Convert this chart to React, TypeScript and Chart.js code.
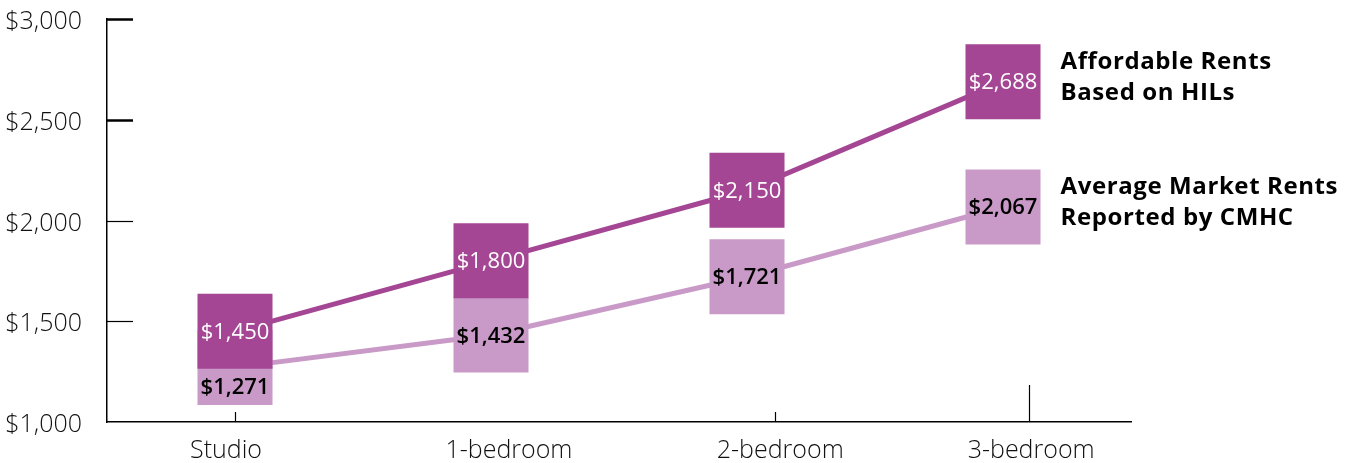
import React, { useEffect, useRef } from "react";
import { Chart, registerables } from "chart.js";

Chart.register(...registerables);

const categories = ["Studio", "1-bedroom", "2-bedroom", "3-bedroom"];
const affordableRents = [1450, 1800, 2150, 2688];
const marketRents = [1271, 1432, 1721, 2067];
const yTicks = [1000, 1500, 2000, 2500, 3000];
const seriesNames = [
  ["Affordable Rents", "Based on HILs"],
  ["Average Market Rents", "Reported by CMHC"],
];

const DARK = "#a44694";
const LIGHT = "#c99ac7";
const FONT = "'Open Sans', 'Noto Sans', sans-serif";
const HALF = 37.5;
const W = 1358;
const H = 463;

const fmt = (v: number) => "$" + v.toLocaleString("en-US");

const decorPlugin = {
  id: "decor",
  afterDatasetsDraw(chart: any) {
    const { ctx, chartArea, scales } = chart;
    const x = scales.x;
    const y = scales.y;
    ctx.save();
    // inner y ticks
    yTicks.forEach((t) => {
      if (t === y.min) return;
      const py = Math.round(y.getPixelForValue(t)) + 0.5;
      ctx.beginPath();
      ctx.strokeStyle = "#000";
      ctx.lineWidth = t >= 2500 ? 2.5 : 1.2;
      ctx.moveTo(chartArea.left, py);
      ctx.lineTo(chartArea.left + 26, py);
      ctx.stroke();
    });
    // inner x ticks
    const tickPos = [0, 2.11, 3.1];
    const tickLen = [10, 10, 37];
    tickPos.forEach((v, i) => {
      const px = Math.round(x.getPixelForValue(v)) + 0.5;
      ctx.beginPath();
      ctx.strokeStyle = "#000";
      ctx.lineWidth = 1.2;
      ctx.moveTo(px, chartArea.bottom);
      ctx.lineTo(px, chartArea.bottom - tickLen[i]);
      ctx.stroke();
    });
    // value labels
    const darkMeta = chart.getDatasetMeta(0);
    const lightMeta = chart.getDatasetMeta(1);
    ctx.textAlign = "center";
    ctx.textBaseline = "middle";
    darkMeta.data.forEach((pt: any, i: number) => {
      ctx.fillStyle = "#fff";
      ctx.font = `500 22px ${FONT}`;
      ctx.fillText(fmt(affordableRents[i]), pt.x, pt.y + 1);
    });
    lightMeta.data.forEach((pt: any, i: number) => {
      const d = darkMeta.data[i];
      let top = pt.y - HALF;
      const bottom = pt.y + HALF;
      const dBottom = d.y + HALF;
      const dTop = d.y - HALF;
      if (dBottom > top && dTop < bottom) top = dBottom;
      const cy = (top + bottom) / 2;
      ctx.fillStyle = "#000";
      ctx.font = `600 22px ${FONT}`;
      ctx.fillText(fmt(marketRents[i]), pt.x, cy + 1);
    });
    // legend text
    ctx.textAlign = "left";
    ctx.textBaseline = "alphabetic";
    ctx.fillStyle = "#000";
    ctx.font = `bold 24px ${FONT}`;
    try {
      (ctx as any).letterSpacing = "0.6px";
    } catch (e) {}
    [darkMeta, lightMeta].forEach((meta: any, k: number) => {
      const last = meta.data[meta.data.length - 1];
      const lx = last.x + HALF + 20;
      ctx.fillText(seriesNames[k][0], lx, last.y - 13);
      ctx.fillText(seriesNames[k][1], lx, last.y + 18.5);
    });
    ctx.restore();
  },
};

export default function App() {
  const ref = useRef<HTMLCanvasElement>(null);
  useEffect(() => {
    if (!ref.current) return;
    const labelPos = [-0.035, 1.07, 2.13, 3.11];
    const chart = new Chart(ref.current, {
      type: "line",
      data: {
        datasets: [
          {
            label: seriesNames[0].join(" "),
            data: affordableRents.map((v, i) => ({ x: i, y: v })),
            borderColor: DARK,
            backgroundColor: DARK,
            borderWidth: 5,
            pointStyle: "rect",
            pointRadius: HALF / Math.SQRT1_2,
            pointHoverRadius: HALF / Math.SQRT1_2,
            pointBorderWidth: 0,
            pointBackgroundColor: DARK,
            tension: 0,
            clip: false,
          },
          {
            label: seriesNames[1].join(" "),
            data: marketRents.map((v, i) => ({ x: i, y: v })),
            borderColor: LIGHT,
            backgroundColor: LIGHT,
            borderWidth: 5,
            pointStyle: "rect",
            pointRadius: HALF / Math.SQRT1_2,
            pointHoverRadius: HALF / Math.SQRT1_2,
            pointBorderWidth: 0,
            pointBackgroundColor: LIGHT,
            tension: 0,
            clip: false,
          },
        ],
      },
      options: {
        animation: false,
        responsive: false,
        devicePixelRatio: 1,
        layout: { autoPadding: false, padding: { left: 0, top: 19, right: 227, bottom: 0 } },
        plugins: { legend: { display: false }, tooltip: { enabled: false } },
        scales: {
          x: {
            type: "linear",
            min: -0.5,
            max: 3.5,
            grid: { display: false },
            border: { display: true, color: "#000", width: 1.5 },
            afterBuildTicks: (s: any) => {
              s.ticks = labelPos.map((v) => ({ value: v }));
            },
            afterFit: (s: any) => {
              s.height = 41;
              s.paddingLeft = 0;
              s.paddingRight = 0;
            },
            ticks: {
              autoSkip: false,
              maxRotation: 0,
              padding: 6,
              color: "#111",
              font: { family: FONT, size: 25, weight: "300" },
              callback: (_v: any, i: number) => categories[i],
            },
          },
          y: {
            type: "linear",
            min: 1000,
            max: 3000,
            grid: { display: false },
            border: { display: true, color: "#000", width: 1.5 },
            afterBuildTicks: (s: any) => {
              s.ticks = yTicks.map((v) => ({ value: v }));
            },
            afterFit: (s: any) => {
              s.width = 107;
              s.paddingTop = 0;
              s.paddingBottom = 0;
            },
            ticks: {
              padding: 17,
              labelOffset: 3,
              color: "#111",
              font: { family: FONT, size: 25, weight: "300" },
              callback: (v: any) => fmt(Number(v)),
            },
          },
        },
      },
      plugins: [decorPlugin],
    });
    return () => chart.destroy();
  }, []);
  return (
    <div style={{ position: "fixed", left: 0, top: 0, width: W, height: H, background: "#fff" }}>
      <canvas ref={ref} width={W} height={H} style={{ display: "block", width: W, height: H }} />
    </div>
  );
}
